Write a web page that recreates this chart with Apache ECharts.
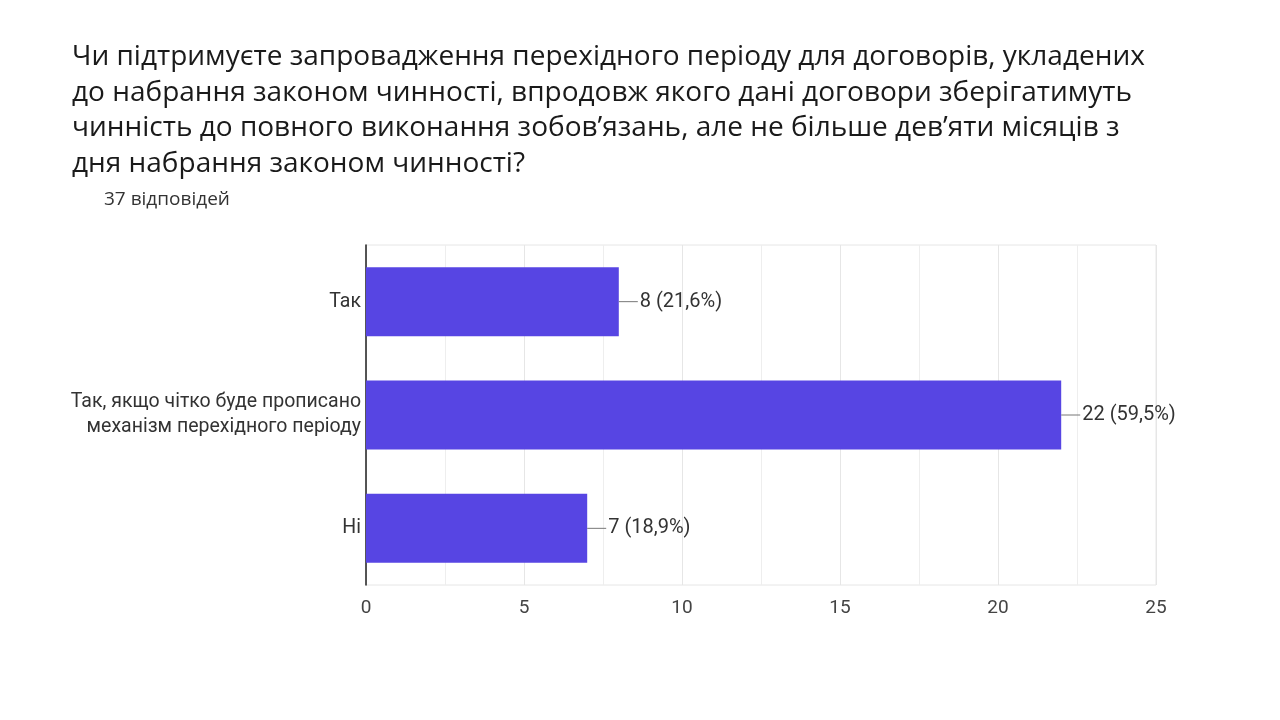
<!DOCTYPE html>
<html>
<head>
    <meta charset="utf-8">
    <title>Перехідний період</title>
    <script src="https://cdn.jsdelivr.net/npm/echarts@6/dist/echarts.min.js"></script>
</head>
<style>
    html, body { margin: 0; padding: 0; background: #fff; }
    #main { width: 1280px; height: 720px; }
</style>
<body>
<div id="main"></div>
<script>
    // дані
    var titleLines = [
        'Чи підтримуєте запровадження перехідного періоду для договорів, укладених',
        'до набрання законом чинності, впродовж якого дані договори зберігатимуть',
        'чинність до повного виконання зобов’язань, але не більше дев’яти місяців з',
        'дня набрання законом чинності?'
    ];
    var answersText = '37 відповідей';
    var categories = ['Так', 'Так, якщо чітко буде прописано\nмеханізм перехідного періоду', 'Ні'];
    var counts = [8, 22, 7];
    var total = 37;

    var myChart = echarts.init(document.getElementById('main'));
    var option = {
        backgroundColor: '#fff',
        animation: false,
        title: [
            {
                text: titleLines.join('\n'),
                left: 67, top: 34,
                textStyle: {fontFamily: 'Open Sans', fontSize: 28, fontWeight: 'normal', color: '#1a1a1a', lineHeight: 35.7}
            },
            {
                text: answersText,
                left: 99, top: 185,
                textStyle: {fontFamily: 'Open Sans', fontSize: 19, fontWeight: 'normal', color: '#333'}
            }
        ],
        grid: {left: 366, right: 124, top: 245, bottom: 135, containLabel: false,
            show: true, borderColor: '#e6e6e6', borderWidth: 1},
        xAxis: {
            type: 'value', min: 0, max: 25, interval: 5,
            axisLine: {show: false}, axisTick: {show: false},
            axisLabel: {color: '#444', fontSize: 19, fontFamily: 'Roboto', margin: 14},
            splitLine: {show: true, lineStyle: {color: '#e6e6e6'}},
            minorTick: {show: false, splitNumber: 2},
            minorSplitLine: {show: true, lineStyle: {color: '#eeeeee'}}
        },
        yAxis: {
            type: 'category', data: categories, inverse: true,
            axisLine: {show: true, lineStyle: {color: '#222', width: 1.5}},
            axisTick: {show: false},
            axisLabel: {color: '#333', fontSize: 19.5, fontFamily: 'Roboto', margin: 5, align: 'right', lineHeight: 25}
        },
        series: [
            {
                type: 'bar', data: counts, barWidth: 69,
                itemStyle: {color: '#5745e3'},
                label: {
                    show: true, position: 'right', distance: 21,
                    color: '#333', fontSize: 20, fontFamily: 'Roboto',
                    formatter: function (p) {
                        return p.value + ' (' + (p.value / total * 100).toFixed(1).replace('.', ',') + '%)';
                    }
                }
            },
            {
                // лінії-виноски від краю стовпця до підпису
                type: 'custom',
                data: counts.map(function (v, i) { return [v, i]; }),
                renderItem: function (params, api) {
                    var p = api.coord([api.value(0), api.value(1)]);
                    return {
                        type: 'line',
                        shape: {x1: p[0], y1: p[1], x2: p[0] + 19, y2: p[1]},
                        style: {stroke: '#777', lineWidth: 1}
                    };
                },
                silent: true, z: 3
            }
        ]
    };
    myChart.setOption(option);
</script>
</body>
</html>
